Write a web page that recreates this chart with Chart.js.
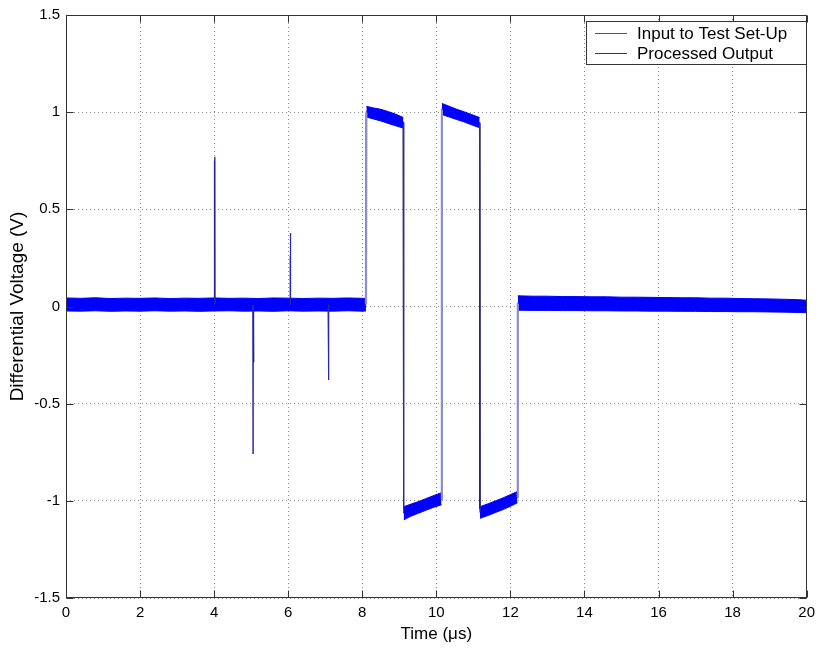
<!DOCTYPE html>
<html><head><meta charset="utf-8">
<script src="https://cdn.jsdelivr.net/npm/chart.js@4.4.0/dist/chart.umd.min.js"></script>
<style>html,body{margin:0;padding:0;background:#fff;}#wrap{width:821px;height:651px;position:relative;}</style>
</head><body><div id="wrap"><canvas id="c" width="821" height="651"></canvas></div>
<script>
// ---- data ----
const seriesNames = ['Input to Test Set-Up', 'Processed Output'];
const xTickValues = [0, 2, 4, 6, 8, 10, 12, 14, 16, 18, 20];
const yTickValues = [-1.5, -1, -0.5, 0, 0.5, 1, 1.5];
const xTitle = 'Time (\u03bcs)';
const yTitle = 'Differential Voltage (V)';

// centre line of the processed output (edges and spikes)
const outputTime = [0, 4.015, 4.02, 4.025, 5.045, 5.05, 5.055, 6.055, 6.06, 6.065, 7.085, 7.09, 7.095, 8.10,
  8.11, 9.11, 9.12, 10.14, 10.15, 11.17, 11.18, 12.19, 12.2, 20];
const outputVolt = [0.010, 0.010, 0.771, 0.010, 0.010, -0.756, 0.010, 0.010, 0.378, 0.010, 0.010, -0.378, 0.010, 0.010,
  1.002, 0.945, -1.064, -0.990, 1.016, 0.946, -1.060, -0.981, 0.018, 0.000];

// noise band of the processed output (upper / lower edge, gaps at the edges)
const bandTime = [0, 0.4, 0.8, 1.2, 1.6, 2.0, 2.4, 2.8, 3.2, 3.6, 4.0, 4.4, 4.8, 5.2, 5.6, 6.0, 6.4, 6.8, 7.2, 7.6, 8.0, 8.10,
  8.105,
  8.11, 8.3, 8.5, 8.7, 8.9, 9.11,
  9.115,
  9.12, 9.3, 9.5, 9.7, 9.9, 10.14,
  10.145,
  10.15, 10.35, 10.55, 10.75, 10.95, 11.17,
  11.175,
  11.18, 11.4, 11.6, 11.8, 12.0, 12.19,
  12.195,
  12.2, 12.6, 13.0, 13.4, 13.8, 14.2, 14.6, 15.0, 15.4, 15.8, 16.2, 16.6, 17.0, 17.4, 17.8, 18.2, 18.6, 19.0, 19.4, 19.8, 20.0];
const bandUpper = [0.044, 0.042, 0.045, 0.041, 0.043, 0.042, 0.044, 0.041, 0.043, 0.042, 0.044, 0.042, 0.043, 0.041, 0.044, 0.043, 0.041, 0.043, 0.042, 0.044, 0.042, 0.042,
  null,
  1.030, 1.022, 1.015, 1.003, 0.990, 0.972,
  null,
  -1.030, -1.018, -1.005, -0.990, -0.975, -0.958,
  null,
  1.045, 1.030, 1.015, 1.002, 0.988, 0.972,
  null,
  -1.030, -1.015, -1.000, -0.985, -0.968, -0.952,
  null,
  0.055, 0.053, 0.053, 0.051, 0.051, 0.050, 0.050, 0.048, 0.048, 0.047, 0.046, 0.045, 0.045, 0.043, 0.043, 0.041, 0.040, 0.039, 0.037, 0.035, 0.032];
const bandLower = [-0.023, -0.024, -0.022, -0.025, -0.023, -0.024, -0.022, -0.024, -0.023, -0.025, -0.023, -0.022, -0.024, -0.023, -0.025, -0.022, -0.024, -0.023, -0.024, -0.022, -0.024, -0.023,
  null,
  0.975, 0.965, 0.955, 0.942, 0.930, 0.918,
  null,
  -1.098, -1.080, -1.065, -1.050, -1.035, -1.020,
  null,
  0.988, 0.975, 0.962, 0.950, 0.935, 0.920,
  null,
  -1.090, -1.075, -1.060, -1.045, -1.028, -1.010,
  null,
  -0.019, -0.020, -0.020, -0.021, -0.021, -0.022, -0.022, -0.023, -0.023, -0.024, -0.024, -0.025, -0.025, -0.026, -0.026, -0.027, -0.027, -0.028, -0.029, -0.031, -0.032];

const inputTime = [0, 4.0, 4.005, 4.012, 5.06, 5.065, 5.072, 6.05, 6.055, 6.062, 7.08, 7.085, 7.092, 8.095, 8.105, 9.105, 9.115, 10.135, 10.145, 11.165, 11.175, 12.185, 12.195, 20];
const inputVolt = [0.010, 0.010, 0.750, 0.010, 0.010, -0.288, 0.010, 0.010, 0.259, 0.010, 0.010, -0.254, 0.010, 0.010, 0.990, 0.950, -1.040, -0.985, 1.000, 0.945, -1.040, -0.980, 0.015, 0.006];

const legendSampleColors = ['#555555', '#2a2a9e'];

// ---- build datasets ----
const toPoints = (xs, ys) => xs.map((x, i) => ({x: x, y: ys[i]}));

const isEdge = c => (c.p1.parsed.x - c.p0.parsed.x) < 0.06;
const isBigRise = c => (c.p1.parsed.y - c.p0.parsed.y) > 0.9;

const boxPlugin = {
  id: 'matlabBox',
  afterDatasetsDraw(chart) {
    const {ctx, chartArea: a, scales} = chart;
    ctx.save();
    ctx.strokeStyle = '#333';
    ctx.lineWidth = 1;
    const L = Math.round(a.left) + 0.5, R = Math.round(a.right) - 0.5, T = Math.round(a.top) + 0.5, B = Math.round(a.bottom) - 0.5;
    ctx.strokeRect(L, T, R - L, B - T);
    const tl = 7;
    ctx.beginPath();
    scales.x.ticks.forEach(t => {
      const px = Math.round(scales.x.getPixelForValue(t.value)) + 0.5;
      ctx.moveTo(px, B); ctx.lineTo(px, B - tl);
      ctx.moveTo(px, T); ctx.lineTo(px, T + tl);
    });
    scales.y.ticks.forEach(t => {
      const py = Math.round(scales.y.getPixelForValue(t.value)) + 0.5;
      ctx.moveTo(L, py); ctx.lineTo(L + tl, py);
      ctx.moveTo(R, py); ctx.lineTo(R - tl, py);
    });
    ctx.stroke();
    ctx.restore();
  },
  afterDraw(chart) {
    const {ctx, chartArea: a} = chart;
    const bx = 586, by = 21, bw = Math.round(a.right) - bx, bh = 43;
    ctx.save();
    ctx.fillStyle = '#fff';
    ctx.fillRect(bx, by, bw, bh);
    ctx.strokeStyle = '#333';
    ctx.lineWidth = 1;
    ctx.strokeRect(bx + 0.5, by + 0.5, bw - 1, bh);
    ctx.font = '17px "Liberation Sans", Arial, sans-serif';
    ctx.textBaseline = 'middle';
    ctx.fillStyle = '#000';
    [0, 1].forEach(i => {
      const ds = chart.data.datasets[i];
      const y = by + 12 + i * 20;
      ctx.strokeStyle = legendSampleColors[i];
      ctx.lineWidth = 1;
      ctx.beginPath();
      ctx.moveTo(bx + 9, Math.round(y) + 0.5);
      ctx.lineTo(bx + 41, Math.round(y) + 0.5);
      ctx.stroke();
      ctx.fillText(ds.label, bx + 51, y + 1);
    });
    ctx.restore();
  }
};

const tickFont = {family: '"Liberation Sans", Arial, sans-serif', size: 15};

new Chart(document.getElementById('c'), {
  type: 'line',
  data: {
    datasets: [
      {
        label: seriesNames[0],
        data: toPoints(inputTime, inputVolt),
        borderColor: '#1a1a1a',
        borderWidth: 1,
        pointRadius: 0,
        tension: 0,
        order: 4,
        clip: 0
      },
      {
        label: seriesNames[1],
        data: toPoints(outputTime, outputVolt),
        borderColor: '#0000ff',
        borderWidth: 1,
        pointRadius: 0,
        tension: 0,
        order: 1,
        clip: 0,
        segment: {
          borderWidth: c => isEdge(c) ? (isBigRise(c) ? 2.2 : 1.3) : 1,
          borderColor: c => isEdge(c) ? (isBigRise(c) ? '#8c8cd0' : '#2a2aa8') : '#0000ff'
        }
      },
      {
        label: seriesNames[1] + ' band upper',
        data: toPoints(bandTime, bandUpper),
        borderColor: '#0000ff',
        backgroundColor: '#0000ff',
        borderWidth: 1,
        pointRadius: 0,
        tension: 0,
        spanGaps: false,
        fill: '+1',
        order: 3,
        clip: 0
      },
      {
        label: seriesNames[1] + ' band lower',
        data: toPoints(bandTime, bandLower),
        borderColor: '#0000ff',
        borderWidth: 1,
        pointRadius: 0,
        tension: 0,
        spanGaps: false,
        fill: false,
        order: 3,
        clip: 0
      }
    ]
  },
  options: {
    responsive: false,
    animation: false,
    devicePixelRatio: 1,
    layout: {padding: {top: 12, right: 11, left: 0, bottom: 0}},
    plugins: {legend: {display: false}, tooltip: {enabled: false}},
    scales: {
      x: {
        type: 'linear', min: 0, max: 20,
        afterBuildTicks: s => { s.ticks = xTickValues.map(v => ({value: v})); },
        afterFit: s => { s.height = 53; },
        ticks: {font: tickFont, color: '#000', padding: 6, maxRotation: 0, autoSkip: false, callback: v => String(v)},
        grid: {color: '#8c8c8c', lineWidth: 1, drawTicks: false},
        border: {display: false, dash: [1, 3]},
        title: {display: true, text: xTitle, font: {family: '"Liberation Sans", Arial, sans-serif', size: 17}, color: '#000', padding: {top: 0, bottom: 6}}
      },
      y: {
        type: 'linear', min: -1.5, max: 1.5,
        afterBuildTicks: s => { s.ticks = yTickValues.map(v => ({value: v})); },
        afterFit: s => { s.width = 66; },
        ticks: {font: tickFont, color: '#000', padding: 6, autoSkip: false, callback: v => String(v)},
        grid: {color: '#8c8c8c', lineWidth: 1, drawTicks: false},
        border: {display: false, dash: [1, 3]},
        title: {display: true, text: yTitle, font: {family: '"Liberation Sans", Arial, sans-serif', size: 19}, color: '#000', padding: {top: 6, bottom: 0}}
      }
    }
  },
  plugins: [boxPlugin]
});
</script>
</body></html>
